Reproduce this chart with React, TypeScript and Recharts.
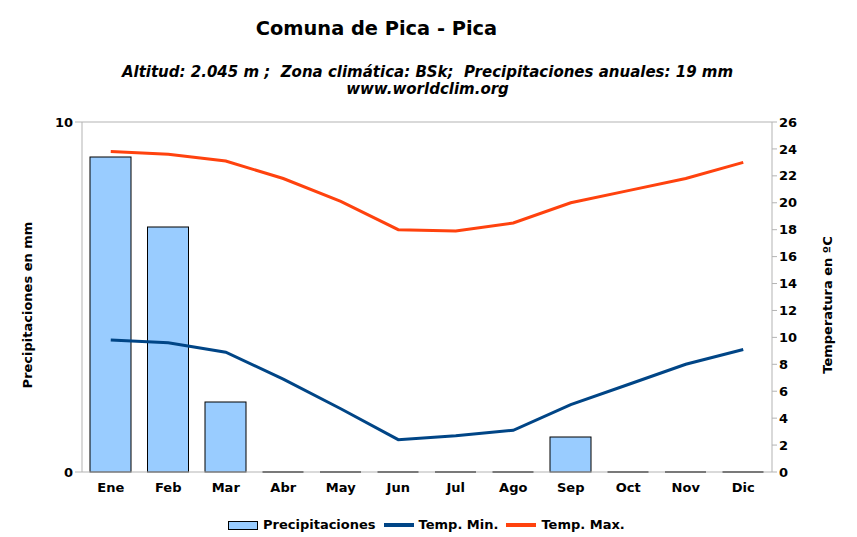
import React from 'react';
import {
  ComposedChart,
  Bar,
  Line,
  XAxis,
  YAxis,
  ReferenceLine,
} from 'recharts';

// Climate data
const months = ['Ene', 'Feb', 'Mar', 'Abr', 'May', 'Jun', 'Jul', 'Ago', 'Sep', 'Oct', 'Nov', 'Dic'];
const precipitation = [9, 7, 2, 0, 0, 0, 0, 0, 1, 0, 0, 0];
const tempMin = [9.8, 9.6, 8.9, 6.9, 4.7, 2.4, 2.7, 3.1, 5.0, 6.5, 8.0, 9.1];
const tempMax = [23.8, 23.6, 23.1, 21.8, 20.1, 18.0, 17.9, 18.5, 20.0, 20.9, 21.8, 23.0];
const precipTicks = [0, 10];
const tempTicks = [0, 2, 4, 6, 8, 10, 12, 14, 16, 18, 20, 22, 24, 26];

const chartData = months.map((month, i) => ({
  month,
  precip: precipitation[i],
  min: tempMin[i],
  max: tempMax[i],
}));

// tick marks sit between the categories
const boundaryTicks = months.map((_, i) => i).concat(months.length);

const FONT = '"DejaVu Sans", Verdana, sans-serif';
const AXIS_COLOR = '#b3b3b3';
const BAR_COLOR = '#99ccff';
const MIN_COLOR = '#004586';
const MAX_COLOR = '#ff420e';

const tickStyle = { fill: '#000', fontSize: 13, fontWeight: 'bold', fontFamily: FONT };

// zero-height bars still show a black base line
function PrecipBar(props: any) {
  const { x, y, width, height } = props;
  if (!height) {
    return <line x1={x} x2={x + width} y1={y} y2={y} stroke="#000" strokeWidth={1.5} />;
  }
  return <rect x={x} y={y} width={width} height={height} fill={BAR_COLOR} stroke="#000" strokeWidth={1} />;
}

function AxisTitle({ viewBox, value, dx }: any) {
  const cx = viewBox.x + dx;
  const cy = viewBox.y + viewBox.height / 2 + 8;
  return (
    <text
      x={cx}
      y={cy}
      transform={`rotate(-90 ${cx} ${cy})`}
      textAnchor="middle"
      fontFamily={FONT}
      fontWeight="bold"
      fontSize={13}
      fill="#000"
    >
      {value}
    </text>
  );
}

function LegendItem({ swatch, label }: { swatch: React.ReactNode; label: string }) {
  return (
    <div style={{ display: 'flex', alignItems: 'center', marginRight: 8 }}>
      {swatch}
      <span style={{ marginLeft: 5 }}>{label}</span>
    </div>
  );
}

export default function App() {
  return (
    <div
      style={{
        position: 'absolute',
        left: 0,
        top: 0,
        width: 857,
        height: 537,
        background: '#fff',
        fontFamily: FONT,
        color: '#000',
      }}
    >
      {/* Titles */}
      <div
        style={{
          position: 'absolute',
          left: 0,
          top: 19,
          width: 753,
          textAlign: 'center',
          fontSize: 19.4,
          fontWeight: 'bold',
          lineHeight: 1,
        }}
      >
        Comuna de Pica - Pica
      </div>
      <div
        style={{
          position: 'absolute',
          left: 0,
          top: 64,
          width: 855,
          textAlign: 'center',
          fontFamily: FONT,
          fontSize: 15,
          fontWeight: 'bold',
          fontStyle: 'italic',
          lineHeight: '17px',
          whiteSpace: 'pre',
        }}
      >
        {'Altitud: 2.045 m ;  Zona climática: BSk;  Precipitaciones anuales: 19 mm\nwww.worldclim.org'}
      </div>

      <div style={{ position: 'absolute', left: 0, top: 0 }}>
        <ComposedChart
          width={857}
          height={537}
          data={chartData}
          margin={{ top: 122, right: 0, bottom: 35, left: 0 }}
        >
          <XAxis
            xAxisId="bounds"
            type="number"
            domain={[0, months.length]}
            ticks={boundaryTicks}
            tick={false}
            tickSize={6}
            axisLine={false}
            height={0}
            stroke={AXIS_COLOR}
          />
          <XAxis
            xAxisId="cat"
            dataKey="month"
            tickLine={false}
            tickMargin={5}
            height={30}
            stroke={AXIS_COLOR}
            tick={tickStyle}
          />
          <YAxis
            yAxisId="left"
            domain={[0, 10]}
            ticks={precipTicks}
            width={82}
            tickSize={7}
            stroke={AXIS_COLOR}
            tick={tickStyle}
            label={{ content: (p: any) => <AxisTitle {...p} value="Precipitaciones en mm" dx={32} /> }}
          />
          <YAxis
            yAxisId="right"
            orientation="right"
            domain={[0, 26]}
            ticks={tempTicks}
            interval={0}
            width={85}
            tickSize={5}
            stroke={AXIS_COLOR}
            tick={tickStyle}
            label={{ content: (p: any) => <AxisTitle {...p} value="Temperatura en ºC" dx={60} /> }}
          />
          <ReferenceLine yAxisId="left" xAxisId="cat" y={10} stroke={AXIS_COLOR} />
          <Bar
            xAxisId="cat"
            yAxisId="left"
            dataKey="precip"
            name="Precipitaciones"
            barSize={41}
            shape={PrecipBar}
            isAnimationActive={false}
          />
          <Line
            xAxisId="cat"
            yAxisId="right"
            type="linear"
            dataKey="min"
            name="Temp. Min."
            stroke={MIN_COLOR}
            strokeWidth={3}
            dot={false}
            activeDot={false}
            isAnimationActive={false}
          />
          <Line
            xAxisId="cat"
            yAxisId="right"
            type="linear"
            dataKey="max"
            name="Temp. Max."
            stroke={MAX_COLOR}
            strokeWidth={3}
            dot={false}
            activeDot={false}
            isAnimationActive={false}
          />
        </ComposedChart>
      </div>

      {/* Legend */}
      <div
        style={{
          position: 'absolute',
          left: 228,
          top: 517,
          display: 'flex',
          fontSize: 13,
          fontWeight: 'bold',
          lineHeight: '16px',
        }}
      >
        <LegendItem
          label="Precipitaciones"
          swatch={<div style={{ width: 28, height: 7, background: BAR_COLOR, border: '1px solid #000' }} />}
        />
        <LegendItem label="Temp. Min." swatch={<div style={{ width: 30, height: 4, background: MIN_COLOR }} />} />
        <LegendItem label="Temp. Max." swatch={<div style={{ width: 30, height: 4, background: MAX_COLOR }} />} />
      </div>
    </div>
  );
}
